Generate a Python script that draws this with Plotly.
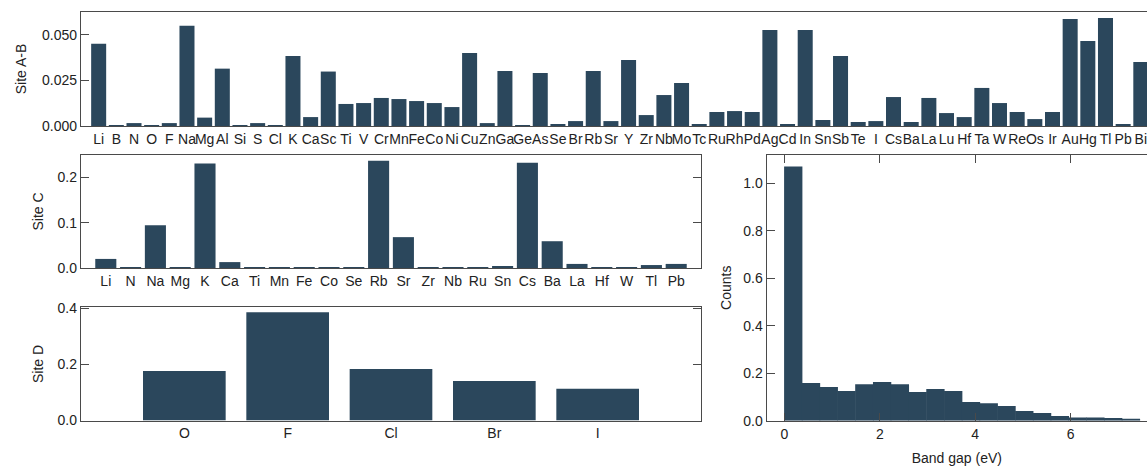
import plotly.graph_objects as go

# ---------------- data ----------------
ab_elements = ["Li","B","N","O","F","Na","Mg","Al","Si","S","Cl","K","Ca","Sc","Ti","V","Cr","Mn","Fe","Co",
               "Ni","Cu","Zn","Ga","Ge","As","Se","Br","Rb","Sr","Y","Zr","Nb","Mo","Tc","Ru","Rh","Pd","Ag","Cd",
               "In","Sn","Sb","Te","I","Cs","Ba","La","Lu","Hf","Ta","W","Re","Os","Ir","Au","Hg","Tl","Pb","Bi"]
ab_values = [0.0452,0.0003,0.0016,0.0003,0.0016,0.0551,0.0046,0.0315,0.0003,0.0016,0.0003,0.0385,0.0049,0.0299,0.0121,0.0126,0.0154,0.0148,0.0137,0.0126,
             0.0104,0.0401,0.0016,0.0302,0.0003,0.0291,0.0011,0.0027,0.0302,0.0027,0.0363,0.0060,0.0170,0.0236,0.0011,0.0077,0.0082,0.0077,0.0527,0.0011,
             0.0527,0.0033,0.0385,0.0022,0.0027,0.0159,0.0022,0.0154,0.0071,0.0049,0.0209,0.0126,0.0077,0.0038,0.0077,0.0588,0.0467,0.0593,0.0011,0.0352]

c_elements = ["Li","N","Na","Mg","K","Ca","Ti","Mn","Fe","Co","Se","Rb","Sr","Zr","Nb","Ru","Sn","Cs","Ba","La","Hf","W","Tl","Pb"]
c_values = [0.020,0.002,0.094,0.002,0.230,0.013,0.0006,0.0006,0.0006,0.002,0.0006,0.2365,0.068,0.002,0.002,0.001,0.004,0.232,0.059,0.009,0.002,0.001,0.0065,0.009]

d_elements = ["O","F","Cl","Br","I"]
d_values = [0.177,0.386,0.184,0.141,0.113]

gap_bin_edges = [0.0,0.3725,0.745,1.1175,1.49,1.8625,2.235,2.6075,2.98,3.3525,3.725,4.0975,4.47,4.8425,5.215,5.5875,5.96,6.3325,6.705,7.0775,7.45]
gap_counts = [1.070,0.159,0.142,0.125,0.154,0.163,0.154,0.121,0.133,0.125,0.079,0.074,0.062,0.041,0.032,0.020,0.013,0.013,0.011,0.007]

# ---------------- style ----------------
BAR = "#2b475c"
LINE = "#4a4a4a"
FONT = "Liberation Sans, Arial, Helvetica, sans-serif"
W, H = 1147, 467

def px_x(p):
    return p / W

def px_y(p):
    return 1 - p / H

fig = go.Figure()

fig.add_trace(go.Bar(x=ab_elements, y=ab_values, marker_color=BAR, marker_line_width=0,
                     width=[0.85] * len(ab_elements), xaxis="x", yaxis="y"))
fig.add_trace(go.Bar(x=c_elements, y=c_values, marker_color=BAR, marker_line_width=0,
                     width=[0.85] * len(c_elements), xaxis="x2", yaxis="y2"))
fig.add_trace(go.Bar(x=d_elements, y=d_values, marker_color=BAR, marker_line_width=0,
                     width=[0.8] * len(d_elements), xaxis="x3", yaxis="y3"))

centers = [(a + b) / 2 for a, b in zip(gap_bin_edges[:-1], gap_bin_edges[1:])]
widths = [(b - a) * 1.03 for a, b in zip(gap_bin_edges[:-1], gap_bin_edges[1:])]  # slight overlap hides seams
fig.add_trace(go.Bar(x=centers, y=gap_counts, width=widths, marker_color=BAR,
                     marker_line_width=0, xaxis="x4", yaxis="y4"))

axis_common = dict(showline=True, linecolor=LINE, linewidth=1.3, showgrid=False, zeroline=False,
                   automargin=False, tickfont=dict(size=14, color="#222", family=FONT))
yaxis_common = dict(axis_common, ticks="inside", ticklen=8, tickcolor=LINE, tickwidth=1.3)

fig.update_layout(
    width=W, height=H,
    margin=dict(l=0, r=0, t=0, b=0, autoexpand=False),
    paper_bgcolor="white", plot_bgcolor="white",
    showlegend=False,
    font=dict(family=FONT, size=14, color="#222"),
    xaxis=dict(axis_common, domain=[px_x(81), 1.0], anchor="y", type="category",
               range=[-1, 59.35], ticks="", mirror=True, tickangle=0),
    yaxis=dict(yaxis_common, domain=[px_y(126), px_y(12)], anchor="x", range=[0, 0.0626],
               tickvals=[0, 0.025, 0.05], ticktext=["0.000", "0.025", "0.050"],
               title=dict(text="Site A-B", font=dict(size=14), standoff=12)),
    xaxis2=dict(axis_common, domain=[px_x(81), px_x(701)], anchor="y2", type="category",
                range=[-1, 24], ticks="", mirror=True, tickangle=0),
    yaxis2=dict(yaxis_common, domain=[px_y(268), px_y(155)], anchor="x2", range=[0, 0.249],
                tickvals=[0, 0.1, 0.2], ticktext=["0.0", "0.1", "0.2"], mirror="allticks",
                title=dict(text="Site C", font=dict(size=14), standoff=10)),
    xaxis3=dict(axis_common, domain=[px_x(81), px_x(701)], anchor="y3", type="category",
                range=[-1, 5], ticks="", mirror=True, tickangle=0),
    yaxis3=dict(yaxis_common, domain=[px_y(420.5), px_y(307.3)], anchor="x3", range=[0, 0.404],
                tickvals=[0, 0.2, 0.4], ticktext=["0.0", "0.2", "0.4"], mirror="allticks",
                title=dict(text="Site D", font=dict(size=14), standoff=10)),
    xaxis4=dict(yaxis_common, domain=[px_x(766.7), 1.0], anchor="y4", range=[-0.37, 7.6],
                tickvals=[0, 2, 4, 6], ticktext=["0", "2", "4", "6"], mirror="allticks",
                title=dict(text="Band gap (eV)", font=dict(size=14), standoff=12)),
    yaxis4=dict(yaxis_common, domain=[px_y(420.7), px_y(154.7)], anchor="x4", range=[0, 1.12],
                tickvals=[0, 0.2, 0.4, 0.6, 0.8, 1.0], ticktext=["0.0", "0.2", "0.4", "0.6", "0.8", "1.0"],
                title=dict(text="Counts", font=dict(size=14), standoff=8)),
)

fig.write_html("out.html", config={"displayModeBar": False},
               post_script="document.body.style.margin='0';document.body.style.overflow='hidden';")
